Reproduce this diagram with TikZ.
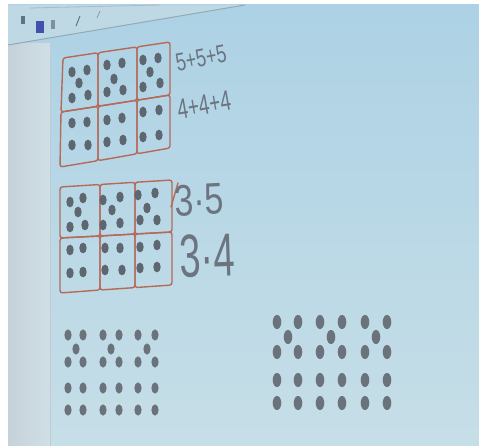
\documentclass[tikz,border=0pt]{standalone}
\usepackage{fontspec}
\newfontfamily\hand{Liberation Sans}
\definecolor{bgtop}{HTML}{ADD2E5}
\definecolor{bgbot}{HTML}{C6DEE7}
\definecolor{stripL}{HTML}{C6D2DA}
\definecolor{stripR}{HTML}{D0DEE5}
\definecolor{toolbar}{HTML}{BED8E4}
\definecolor{lineg}{HTML}{93A9B5}
\definecolor{boxred}{HTML}{B56A58}
\definecolor{dotgray}{HTML}{5E6670}
\definecolor{dotlight}{HTML}{6A737C}
\definecolor{inkgray}{HTML}{6C7480}
\definecolor{icon}{HTML}{5D7388}
\begin{document}
\begin{tikzpicture}[x=1pt,y=-1pt,
  box/.style={draw=boxred, line width=1.4pt, rounded corners=2.5pt, line join=round},
  hw/.style={text=inkgray, inner sep=0pt}]
\useasboundingbox (0,0) rectangle (479,446);
\fill[white] (0,0) rectangle (479,446);
% background
\shade[top color=bgtop, bottom color=bgbot] (8,5) rectangle (479,446);
\shade[left color=stripL, right color=stripR] (8,44) rectangle (50,446);
\draw[lineg!60, line width=0.6pt] (50,44) -- (50,446);
% toolbar
\fill[toolbar] (8,5) -- (245,5) -- (8,45) -- cycle;
\draw[lineg, line width=1pt] (8,45) -- (245,5);
\draw[lineg!80, line width=0.8pt] (30,8) -- (160,5);
\fill[icon] (21,16) rectangle (25,24);
\fill[icon!70!blue] (36,21) rectangle (44,33);
\fill[icon!80] (51,20) rectangle (55,29);
\draw[icon, line width=1pt] (80,16) -- (76,26);
\draw[icon!70, line width=0.8pt] (100,11) -- (97,18);
% ---------- group 1 boxes ----------
\draw[box] (63,58) -- (98,52.7) -- (98,106.3) -- (61,112) -- cycle;
\draw[box] (98,52.7) -- (137,46.9) -- (137,100.2) -- (98,106.3) -- cycle;
\draw[box] (137,46.9) -- (170,42) -- (170,95) -- (137,100.2) -- cycle;
\draw[box] (61,112) -- (98,106.3) -- (98,160.7) -- (60,167) -- cycle;
\draw[box] (98,106.3) -- (137,100.2) -- (137,153.8) -- (98,160.7) -- cycle;
\draw[box] (137,100.2) -- (170,95) -- (170,148) -- (137,153.8) -- cycle;
\foreach \p in {(72,72),(87,70),(79,83),(72,98),(88,95),
                (107,65),(122,63),(114,79),(107,92),(123,90),
                (143,60),(158,58),(150,72),(143,87),(160,83),
                (72,123),(87,122),(72,145),(88,145),
                (107,120),(122,118),(107,142),(123,140),
                (143,112),(159,110),(143,137),(159,135)}
  \fill[dotgray] \p ellipse [x radius=3.7pt, y radius=5.4pt];
\node[hw, font=\hand\fontsize{18}{18}\selectfont, rotate=11, yscale=1.4] (t1) at (201,58) {5+5+5};
\node[hw, font=\hand\fontsize{19}{19}\selectfont, rotate=10, yscale=1.5] (t2) at (204,105) {4+4+4};
% ---------- group 2 boxes ----------
\draw[box] (60,187) -- (100,184.5) -- (100,236) -- (60,238) -- cycle;
\draw[box] (100,184.5) -- (135,182.3) -- (135,234) -- (100,236) -- cycle;
\draw[box] (135,182.3) -- (172,180) -- (172,232) -- (135,234) -- cycle;
\draw[box] (60,238) -- (100,236) -- (100,290) -- (60,293) -- cycle;
\draw[box] (100,236) -- (135,234) -- (135,287.6) -- (100,290) -- cycle;
\draw[box] (135,234) -- (172,232) -- (172,285) -- (135,287.6) -- cycle;
\coordinate (s1) at (178,183);
\coordinate (s2) at (171,207);
\draw[boxred, line width=1.4pt, line cap=round] (s1) -- (s2);
\foreach \p in {(70,202),(83,198),(78,212),(70,227),(85,225),
                (103,200),(120,197),(112,210),(103,225),(120,223),
                (138,195),(155,193),(147,208),(140,220),(157,220),
                (70,250),(83,248),(70,273),(83,272),
                (105,248),(120,248),(105,270),(122,270),
                (140,247),(157,245),(140,268),(157,267)}
  \fill[dotgray] \p ellipse [x radius=3.7pt, y radius=5.4pt];
\node[hw, font=\hand\fontsize{34}{34}\selectfont, rotate=3, yscale=1.3] (t3) at (199,200) {3·5};
\node[hw, font=\hand\fontsize{38}{38}\selectfont, rotate=2, yscale=1.6] (t4) at (207,256) {3·4};
% ---------- group 3 dots ----------
\foreach \a/\b/\c in {68/83/76, 103/119/111, 138/155/147}{
  \foreach \p in {(\a,335),(\b,335),(\c,349),(\a,362),(\b,362),
                  (\a,388),(\b,388),(\a,410),(\b,410)}
    \fill[dotlight] \p ellipse [x radius=3.6pt, y radius=5.6pt];
}
% ---------- group 4 dots ----------
\foreach \a/\b/\c in {277/298/288, 320/342/331, 365/387/376}{
  \foreach \p in {(\a,322),(\b,322),(\c,337),(\a,352),(\b,352),
                  (\a,380),(\b,380),(\a,403),(\b,403)}
    \fill[dotlight] \p ellipse [x radius=4.3pt, y radius=7pt];
}
\end{tikzpicture}
\end{document}
